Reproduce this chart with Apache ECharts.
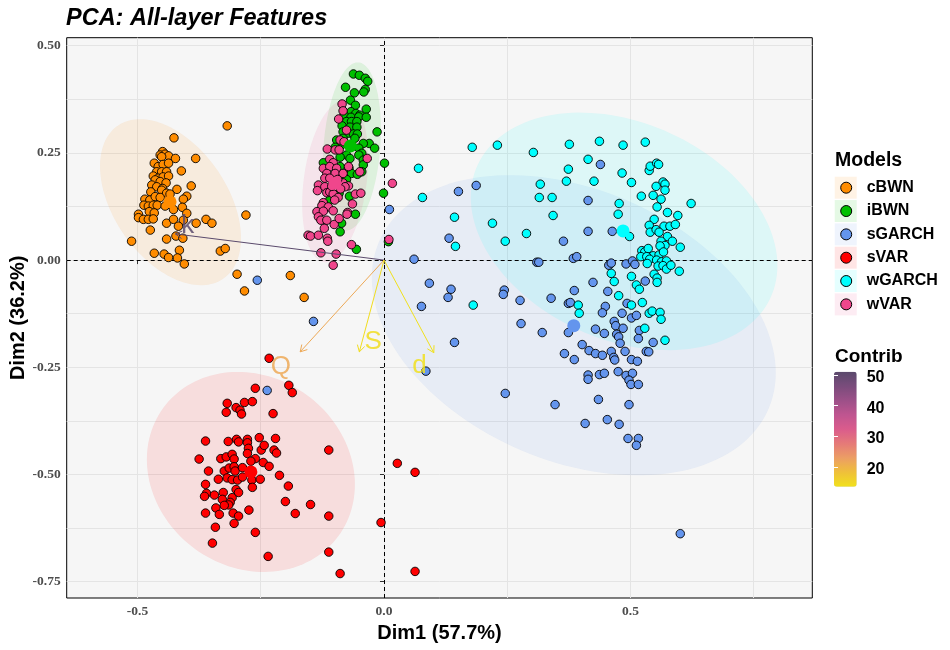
<!DOCTYPE html>
<html>
<head>
<meta charset="utf-8">
<script src="https://cdn.jsdelivr.net/npm/echarts@6/dist/echarts.min.js"></script>
<style>html,body{margin:0;padding:0;background:#fff;}#c{width:950px;height:650px;}</style>
</head>
<body>
<div id="c"></div>
<script>
// ---------- data ----------
const groups = ['cBWN', 'iBWN', 'sGARCH', 'sVAR', 'wGARCH', 'wVAR'];

const cBWN = [[-0.318,0.313],[-0.426,0.285],[-0.449,0.253],[-0.454,0.245],[-0.444,0.247],[-0.437,0.243],[-0.451,0.241],[-0.423,0.237],[-0.382,0.237],[-0.466,0.226],[-0.458,0.218],[-0.448,0.223],[-0.437,0.226],[-0.411,0.208],[-0.461,0.206],[-0.451,0.206],[-0.441,0.206],[-0.468,0.196],[-0.458,0.191],[-0.448,0.194],[-0.437,0.196],[-0.464,0.187],[-0.454,0.183],[-0.442,0.180],[-0.391,0.173],[-0.471,0.175],[-0.461,0.171],[-0.449,0.167],[-0.420,0.165],[-0.473,0.159],[-0.451,0.163],[-0.441,0.156],[-0.434,0.154],[-0.400,0.149],[-0.407,0.142],[-0.485,0.142],[-0.475,0.140],[-0.464,0.148],[-0.454,0.146],[-0.487,0.128],[-0.478,0.126],[-0.468,0.128],[-0.460,0.128],[-0.444,0.126],[-0.427,0.118],[-0.409,0.123],[-0.476,0.113],[-0.466,0.110],[-0.400,0.109],[-0.498,0.107],[-0.498,0.099],[-0.488,0.095],[-0.478,0.095],[-0.468,0.096],[-0.441,0.086],[-0.427,0.095],[-0.407,0.093],[-0.381,0.086],[-0.361,0.095],[-0.349,0.086],[-0.280,0.105],[-0.417,0.079],[-0.474,0.070],[-0.512,0.044],[-0.441,0.049],[-0.422,0.056],[-0.408,0.051],[-0.415,0.023],[-0.332,0.021],[-0.322,0.027],[-0.466,0.016],[-0.446,0.014],[-0.437,0.006],[-0.419,0.005],[-0.405,-0.009],[-0.298,-0.033],[-0.283,-0.072],[-0.190,-0.036],[-0.162,-0.087]];

const iBWN = [[-0.062,0.434],[-0.050,0.431],[-0.038,0.424],[-0.033,0.417],[-0.078,0.403],[-0.038,0.398],[-0.041,0.392],[-0.060,0.390],[-0.068,0.373],[-0.058,0.361],[-0.036,0.352],[-0.067,0.346],[-0.057,0.342],[-0.049,0.338],[-0.081,0.338],[-0.067,0.333],[-0.051,0.334],[-0.036,0.333],[-0.076,0.323],[-0.066,0.323],[-0.055,0.323],[-0.085,0.313],[-0.069,0.310],[-0.055,0.310],[-0.014,0.299],[-0.083,0.299],[-0.072,0.296],[-0.062,0.294],[-0.054,0.294],[-0.096,0.280],[-0.083,0.284],[-0.059,0.284],[-0.030,0.272],[-0.042,0.272],[-0.019,0.261],[-0.051,0.261],[-0.045,0.249],[-0.087,0.268],[-0.099,0.263],[-0.076,0.245],[-0.069,0.237],[-0.051,0.245],[-0.042,0.233],[-0.089,0.240],[-0.123,0.227],[0.001,0.226],[-0.042,0.222],[-0.089,0.218],[-0.071,0.214],[-0.066,0.202],[-0.054,0.200],[-0.045,0.206],[-0.076,0.188],[-0.091,0.156],[-0.001,0.156],[-0.070,0.149],[-0.110,0.140],[-0.058,0.107],[-0.086,0.086],[-0.089,0.066],[0.009,0.043],[-0.056,0.025]];

const sGARCH = [[0.439,0.223],[0.187,0.174],[0.151,0.160],[0.011,0.118],[0.414,0.139],[0.132,0.051],[0.364,0.044],[0.414,0.067],[0.463,0.067],[0.061,0.002],[0.310,-0.005],[0.314,-0.005],[0.384,0.004],[0.391,0.008],[0.456,-0.012],[0.461,-0.007],[0.491,-0.009],[0.504,-0.002],[0.509,-0.010],[0.530,-0.049],[0.424,-0.052],[0.092,-0.054],[0.136,-0.068],[0.130,-0.087],[0.244,-0.070],[0.242,-0.080],[0.276,-0.094],[0.339,-0.089],[0.386,-0.071],[0.454,-0.073],[0.076,-0.108],[0.374,-0.101],[0.378,-0.099],[0.449,-0.108],[0.443,-0.123],[0.493,-0.101],[0.483,-0.124],[0.502,-0.135],[0.512,-0.129],[0.278,-0.148],[0.321,-0.169],[0.374,-0.169],[0.429,-0.161],[0.447,-0.171],[0.467,-0.143],[0.470,-0.153],[0.485,-0.159],[0.472,-0.173],[0.476,-0.179],[0.518,-0.164],[0.516,-0.183],[0.546,-0.192],[0.479,-0.194],[0.143,-0.192],[0.402,-0.197],[0.416,-0.211],[0.429,-0.218],[0.443,-0.222],[0.461,-0.213],[0.466,-0.227],[0.468,-0.233],[0.489,-0.213],[0.366,-0.218],[0.386,-0.232],[0.502,-0.232],[0.514,-0.236],[0.532,-0.213],[0.537,-0.214],[0.085,-0.259],[0.475,-0.260],[0.414,-0.268],[0.414,-0.278],[0.437,-0.267],[0.447,-0.264],[0.491,-0.269],[0.504,-0.264],[0.497,-0.280],[0.501,-0.290],[0.516,-0.290],[0.246,-0.311],[0.347,-0.337],[0.435,-0.325],[0.497,-0.337],[0.408,-0.381],[0.453,-0.372],[0.477,-0.383],[0.495,-0.416],[0.516,-0.416],[0.512,-0.432],[-0.257,-0.047],[-0.143,-0.143],[-0.237,-0.304],[0.601,-0.638]];

const sVAR = [[-0.233,-0.229],[-0.193,-0.292],[-0.186,-0.309],[-0.261,-0.299],[-0.318,-0.334],[-0.283,-0.332],[-0.267,-0.330],[-0.300,-0.344],[-0.292,-0.350],[-0.289,-0.359],[-0.320,-0.355],[-0.225,-0.358],[-0.362,-0.422],[-0.316,-0.423],[-0.299,-0.418],[-0.295,-0.424],[-0.277,-0.418],[-0.277,-0.426],[-0.253,-0.414],[-0.220,-0.416],[-0.112,-0.443],[-0.275,-0.439],[-0.277,-0.451],[-0.249,-0.443],[-0.243,-0.432],[-0.223,-0.443],[-0.218,-0.450],[-0.375,-0.464],[-0.331,-0.463],[-0.320,-0.459],[-0.308,-0.453],[-0.304,-0.464],[-0.261,-0.463],[-0.270,-0.469],[-0.245,-0.472],[-0.233,-0.481],[-0.356,-0.492],[-0.324,-0.492],[-0.314,-0.485],[-0.304,-0.482],[-0.302,-0.492],[-0.287,-0.484],[-0.336,-0.511],[-0.318,-0.508],[-0.308,-0.512],[-0.297,-0.513],[-0.287,-0.506],[-0.268,-0.513],[-0.251,-0.511],[-0.212,-0.502],[-0.362,-0.523],[-0.267,-0.530],[-0.194,-0.527],[-0.300,-0.535],[-0.295,-0.542],[-0.360,-0.544],[-0.364,-0.551],[-0.344,-0.548],[-0.326,-0.542],[-0.328,-0.558],[-0.308,-0.554],[-0.312,-0.565],[-0.315,-0.571],[-0.324,-0.572],[-0.200,-0.563],[-0.149,-0.570],[-0.341,-0.578],[-0.274,-0.583],[-0.362,-0.590],[-0.334,-0.593],[-0.306,-0.590],[-0.295,-0.597],[-0.180,-0.591],[-0.112,-0.597],[-0.006,-0.612],[-0.342,-0.623],[-0.304,-0.614],[-0.261,-0.635],[-0.348,-0.660],[-0.112,-0.681],[-0.235,-0.691],[-0.089,-0.731],[0.027,-0.474],[0.063,-0.495],[0.063,-0.726]];

const wGARCH = [[0.179,0.263],[0.230,0.268],[0.303,0.251],[0.376,0.270],[0.437,0.277],[0.485,0.268],[0.530,0.275],[0.070,0.214],[0.414,0.235],[0.374,0.212],[0.483,0.203],[0.538,0.209],[0.540,0.219],[0.553,0.226],[0.557,0.223],[0.317,0.177],[0.370,0.184],[0.426,0.184],[0.502,0.181],[0.566,0.182],[0.570,0.177],[0.552,0.172],[0.570,0.163],[0.078,0.146],[0.315,0.146],[0.341,0.146],[0.522,0.149],[0.546,0.151],[0.562,0.142],[0.477,0.132],[0.623,0.132],[0.554,0.124],[0.343,0.104],[0.475,0.107],[0.575,0.111],[0.596,0.104],[0.143,0.100],[0.548,0.095],[0.220,0.086],[0.538,0.081],[0.568,0.079],[0.580,0.079],[0.591,0.083],[0.498,0.055],[0.540,0.065],[0.552,0.071],[0.558,0.065],[0.575,0.055],[0.289,0.062],[0.246,0.044],[0.145,0.032],[0.562,0.044],[0.570,0.034],[0.560,0.033],[0.585,0.044],[0.601,0.030],[0.523,0.022],[0.529,0.019],[0.536,0.027],[0.546,0.010],[0.558,0.012],[0.567,0.019],[0.521,0.008],[0.533,0.008],[0.539,0.002],[0.553,0.000],[0.563,-0.004],[0.573,-0.002],[0.534,-0.008],[0.556,-0.014],[0.566,-0.013],[0.573,-0.021],[0.582,-0.012],[0.599,-0.026],[0.461,-0.031],[0.467,-0.050],[0.502,-0.038],[0.512,-0.058],[0.518,-0.068],[0.548,-0.033],[0.554,-0.042],[0.554,-0.052],[0.476,-0.083],[0.181,-0.105],[0.394,-0.105],[0.502,-0.105],[0.524,-0.099],[0.538,-0.124],[0.544,-0.119],[0.560,-0.122],[0.562,-0.138],[0.570,-0.187],[0.529,-0.159],[0.396,-0.124]];

const wVAR = [[-0.085,0.364],[-0.083,0.348],[-0.092,0.329],[-0.076,0.303],[-0.089,0.280],[-0.081,0.276],[-0.115,0.259],[-0.099,0.257],[-0.091,0.257],[-0.034,0.237],[-0.110,0.235],[-0.103,0.227],[-0.123,0.214],[-0.110,0.218],[-0.096,0.214],[-0.116,0.202],[-0.099,0.202],[-0.072,0.218],[-0.083,0.202],[-0.049,0.206],[-0.120,0.191],[-0.110,0.191],[-0.133,0.175],[-0.135,0.162],[-0.120,0.171],[-0.116,0.157],[-0.083,0.180],[-0.072,0.173],[-0.079,0.171],[-0.110,0.159],[-0.103,0.154],[-0.058,0.154],[-0.047,0.156],[0.017,0.179],[-0.123,0.134],[-0.126,0.127],[-0.113,0.124],[-0.064,0.131],[-0.136,0.113],[-0.123,0.114],[-0.103,0.115],[-0.074,0.111],[-0.075,0.107],[-0.133,0.101],[-0.128,0.093],[-0.116,0.093],[-0.101,0.083],[-0.091,0.097],[-0.121,0.074],[-0.154,0.058],[-0.149,0.056],[-0.133,0.058],[-0.115,0.051],[-0.114,0.044],[-0.066,0.036],[-0.128,0.017],[-0.097,0.014],[-0.103,-0.012],[0.010,0.048],[-0.094,0.188],[-0.088,0.166],[-0.106,0.172],[-0.093,0.146],[-0.100,0.140]];

// group means (large markers)
const centroidX = [-0.434, -0.068, 0.385, -0.270, 0.485, -0.099];
const centroidY = [0.136, 0.266, -0.153, -0.494, 0.068, 0.179];

// concentration ellipses: centre, half-width, half-height, correlation
const ellipseCX = [-0.433, -0.065, 0.385, -0.270, 0.487, -0.099];
const ellipseCY = [0.135, 0.265, -0.152, -0.494, 0.067, 0.184];
const ellipseHW = [0.143, 0.0588, 0.4097, 0.211, 0.311, 0.0669];
const ellipseHH = [0.1936, 0.196, 0.350, 0.2333, 0.277, 0.189];
const ellipseRho = [-0.433, 0.20, -0.317, -0.125, -0.288, 0.28];

// variables (arrows)
const varNames = ['k', 'Q', 'S', 'd'];
const varX = [-0.423, -0.170, -0.050, 0.101];
const varY = [0.061, -0.214, -0.214, -0.216];
const varContrib = [51.1, 21.4, 14.0, 13.5];
const varLabelX = [-0.398, -0.209, -0.022, 0.072];
const varLabelY = [0.079, -0.249, -0.191, -0.246];

// axes
const xMin = -0.6436, xMax = 0.8688;
const yMin = -0.788, yMax = 0.5186;
const xLabelTicks = [-0.5, 0, 0.5];
const xGridTicks = [-0.5, -0.25, 0, 0.25, 0.5, 0.75];
const yLabelTicks = [-0.75, -0.5, -0.25, 0, 0.25, 0.5];
const yGridTicks = [-0.75, -0.625, -0.5, -0.375, -0.25, -0.125, 0, 0.125, 0.25, 0.375, 0.5];
const contribMin = 13.5, contribMax = 51.1;
const contribTicks = [20, 30, 40, 50];

// ---------- styles ----------
const colors = ['#FF8C00', '#00C000', '#6495ED', '#FF0000', '#00FFFF', '#F0468C'];
const gradient = ['#F1E11C', '#EFC03A', '#EC9E64', '#E57A78', '#DA5C8C', '#BF5590', '#9C5088', '#7A4C7C', '#5A4A6C'];
const SANS = '"Liberation Sans", Arial, sans-serif';
const SERIF = '"Liberation Serif", "Times New Roman", serif';
const pointSets = [cBWN, iBWN, sGARCH, sVAR, wGARCH, wVAR];

function hexA(hex, a) {
  const n = parseInt(hex.slice(1), 16);
  return 'rgba(' + ((n >> 16) & 255) + ',' + ((n >> 8) & 255) + ',' + (n & 255) + ',' + a + ')';
}

const chart = echarts.init(document.getElementById('c'), null, {renderer: 'canvas'});

const ellipseData = groups.map((g, i) => [ellipseCX[i], ellipseCY[i], ellipseHW[i], ellipseHH[i], ellipseRho[i]]);

const series = [];
series.push({
  type: 'custom', name: 'ellipses', xAxisIndex: 0, yAxisIndex: 0, z: 1, silent: true, clip: true,
  encode: {x: 0, y: 1},
  data: ellipseData,
  renderItem: function (params, api) {
    const i = params.dataIndex;
    const cx = api.value(0), cy = api.value(1), hw = api.value(2), hh = api.value(3), r = api.value(4);
    const s = Math.sqrt(1 - r * r);
    const pts = [];
    for (let k = 0; k < 144; k++) {
      const t = 2 * Math.PI * k / 144;
      pts.push(api.coord([cx + hw * Math.cos(t), cy + hh * (r * Math.cos(t) + s * Math.sin(t))]));
    }
    return {type: 'polygon', shape: {points: pts}, style: {fill: hexA(colors[i], 0.1)}};
  },
  markLine: {
    silent: true, symbol: ['none', 'none'], z: 1.5, animation: false,
    label: {show: false},
    lineStyle: {color: '#000', width: 1, type: [4, 3]},
    data: [{xAxis: 0}, {yAxis: 0}]
  }
});

groups.forEach((g, i) => {
  series.push({
    type: 'scatter', name: g, xAxisIndex: 0, yAxisIndex: 0, z: 3,
    data: pointSets[i],
    symbol: 'circle', symbolSize: 8.5,
    itemStyle: {color: colors[i], borderColor: '#000', borderWidth: 0.9, opacity: 1},
    emphasis: {disabled: true}, silent: true
  });
});

series.push({
  type: 'scatter', name: 'means', xAxisIndex: 0, yAxisIndex: 0, z: 3,
  data: groups.map((g, i) => ({value: [centroidX[i], centroidY[i]], itemStyle: {color: colors[i]}})),
  symbol: 'circle', symbolSize: 13,
  itemStyle: {borderWidth: 0, opacity: 1},
  emphasis: {disabled: true}, silent: true
});

const arrowSeriesIndex = series.length;
series.push({
  type: 'custom', name: 'variables', xAxisIndex: 0, yAxisIndex: 0, z: 4, silent: true, clip: false,
  encode: {x: 0, y: 1},
  data: varNames.map((n, i) => [varX[i], varY[i], varContrib[i], varLabelX[i], varLabelY[i]]),
  renderItem: function (params, api) {
    const o = api.coord([0, 0]);
    const e = api.coord([api.value(0), api.value(1)]);
    const l = api.coord([api.value(3), api.value(4)]);
    const color = api.visual('color');
    const ang = Math.atan2(e[1] - o[1], e[0] - o[0]);
    const h = 7.5, a = Math.PI / 6;
    const p1 = [e[0] - h * Math.cos(ang - a), e[1] - h * Math.sin(ang - a)];
    const p2 = [e[0] - h * Math.cos(ang + a), e[1] - h * Math.sin(ang + a)];
    return {
      type: 'group', children: [
        {type: 'line', shape: {x1: o[0], y1: o[1], x2: e[0], y2: e[1]}, style: {stroke: color, lineWidth: 1}},
        {type: 'polyline', shape: {points: [p1, e, p2]}, style: {stroke: color, lineWidth: 1, fill: null}},
        {type: 'text', x: l[0], y: l[1], style: {text: varNames[params.dataIndex], fill: color, opacity: 0.85,
          font: '26px ' + SANS, align: 'center', verticalAlign: 'middle'}}
      ]
    };
  }
});

const tickLabelStyle = {color: '#4D4D4D', fontFamily: SERIF, fontWeight: 'bold', fontSize: 13.5};
const legendText = {color: '#000', fontSize: 16, fontFamily: SANS, fontWeight: 'bold', lineHeight: 22};

const option = {
  animation: false,
  backgroundColor: '#fff',
  title: {
    text: 'PCA: All-layer Features', left: 66, top: 7, padding: 0,
    textStyle: {fontFamily: SANS, fontSize: 23.5, fontWeight: 'bold', fontStyle: 'italic', color: '#000'}
  },
  grid: [
    {left: 66.7, right: 137.7, top: 37.7, bottom: 52, containLabel: false, outerBoundsMode: 'none',
     show: true, backgroundColor: '#F6F6F6', borderColor: '#000', borderWidth: 1},
    {left: 834, top: 371.7, width: 22.7, height: 115, containLabel: false, outerBoundsMode: 'none', show: false}
  ],
  xAxis: [
    {type: 'value', gridIndex: 0, min: xMin, max: xMax, position: 'bottom',
     name: 'Dim1 (57.7%)', nameLocation: 'middle', nameGap: 25, nameMoveOverlap: false,
     nameTextStyle: {fontFamily: SANS, fontSize: 20, fontWeight: 'bold', color: '#000'},
     axisLine: {show: false},
     axisTick: {show: true, length: 4, lineStyle: {color: '#333'}, customValues: xLabelTicks},
     axisLabel: {customValues: xLabelTicks, margin: 7, formatter: v => v.toFixed(1), ...tickLabelStyle},
     splitLine: {show: false}},
    {type: 'value', gridIndex: 0, min: xMin, max: xMax, position: 'top',
     axisLine: {show: false}, axisLabel: {show: false},
     axisTick: {show: false, customValues: xGridTicks},
     splitLine: {show: true, lineStyle: {color: '#E4E4E4', width: 1}}},
    {type: 'value', gridIndex: 1, min: 0, max: 1, show: false}
  ],
  yAxis: [
    {type: 'value', gridIndex: 0, min: yMin, max: yMax, position: 'left',
     name: 'Dim2 (36.2%)', nameLocation: 'middle', nameGap: 38, nameRotate: 90, nameMoveOverlap: false,
     nameTextStyle: {fontFamily: SANS, fontSize: 20, fontWeight: 'bold', color: '#000'},
     axisLine: {show: false},
     axisTick: {show: true, length: 4, lineStyle: {color: '#333'}, customValues: yLabelTicks},
     axisLabel: {customValues: yLabelTicks, margin: 6, formatter: v => v.toFixed(2), ...tickLabelStyle},
     splitLine: {show: false}},
    {type: 'value', gridIndex: 0, min: yMin, max: yMax, position: 'right',
     axisLine: {show: false}, axisLabel: {show: false},
     axisTick: {show: false, customValues: yGridTicks},
     splitLine: {show: true, lineStyle: {color: '#E4E4E4', width: 1}}},
    {type: 'value', gridIndex: 1, min: contribMin, max: contribMax, position: 'right', z: 10,
     axisLine: {show: false},
     axisTick: {show: true, inside: true, length: 4, lineStyle: {color: '#fff', width: 1}, customValues: contribTicks},
     axisLabel: {customValues: contribTicks, margin: 10, formatter: v => '{a|' + v + '}',
       rich: {a: {color: '#000', fontFamily: SANS, fontWeight: 'bold', fontSize: 16, padding: [5, 0, 0, 0]}}},
     splitLine: {show: false}},
    {type: 'value', gridIndex: 1, min: contribMin, max: contribMax, position: 'left', z: 10,
     axisLine: {show: false},
     axisTick: {show: true, inside: true, length: 4, lineStyle: {color: '#fff', width: 1}, customValues: contribTicks},
     axisLabel: {show: false},
     splitLine: {show: false}}
  ],
  visualMap: {
    type: 'continuous', min: contribMin, max: contribMax, dimension: 2, seriesIndex: [arrowSeriesIndex],
    inRange: {color: gradient}, calculable: false, hoverLink: false, realtime: false,
    orient: 'vertical', left: 834, top: 371.7, itemWidth: 22.7, itemHeight: 115, padding: 0, z: 4
  },
  legend: [
    {orient: 'vertical', left: 834.7, top: 176.7, padding: 0, itemGap: 1.33, itemWidth: 22, itemHeight: 22,
     selectedMode: false, z: 3,
     textStyle: {color: 'rgba(0,0,0,0)', fontSize: 16, lineHeight: 22, fontFamily: SANS, fontWeight: 'bold'},
     data: groups.map((g, i) => ({name: g, icon: 'rect', itemStyle: {color: hexA(colors[i], 0.1), borderWidth: 0}}))},
    {orient: 'vertical', left: 840.2, top: 176.7, padding: 0, itemGap: 1.33, itemWidth: 11, itemHeight: 11,
     selectedMode: false, z: 4,
     formatter: n => '{s|}{t|' + n + '}',
     textStyle: {...legendText, rich: {s: {width: 10, lineHeight: 22}, t: {...legendText}}},
     data: groups.map((g, i) => ({name: g, icon: 'circle', itemStyle: {color: colors[i], borderColor: '#000', borderWidth: 1}}))}
  ],
  graphic: [
    {type: 'text', left: 835, top: 151, style: {text: 'Models', font: 'bold 19.5px ' + SANS, fill: '#000'}},
    {type: 'text', left: 835, top: 347, style: {text: 'Contrib', font: 'bold 19px ' + SANS, fill: '#000'}}
  ],
  series: series
};

chart.setOption(option);
</script>
</body>
</html>
